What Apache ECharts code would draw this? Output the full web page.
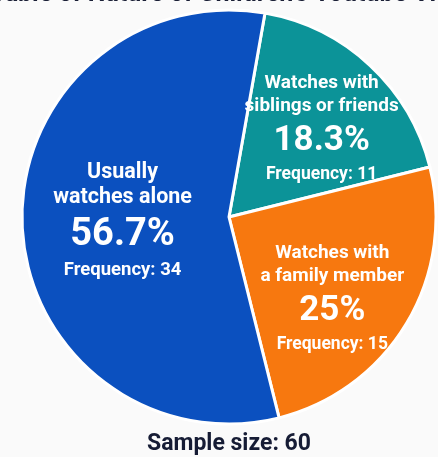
<!DOCTYPE html>
<html>
<head>
<meta charset="utf-8">
<script src="https://cdn.jsdelivr.net/npm/echarts@6/dist/echarts.min.js"></script>
<style>
  html, body { margin: 0; padding: 0; background: #fafafa; }
  #chart { width: 438px; height: 457px; }
</style>
</head>
<body>
<div id="chart"></div>
<script>
// Viewing situations, in clockwise order from the top of the pie
const categories = [
  ['Watches with', 'siblings or friends'],
  ['Watches with', 'a family member'],
  ['Usually', 'watches alone']
];
const frequencies = [11, 15, 34];
const percentLabels = ['18.3%', '25%', '56.7%'];
const sampleSize = 60;

const colors = ['#0c9398', '#f7780f', '#0b50bf'];
// the largest slice gets a slightly bigger label
const labelSizes = ['s', 's', 'b'];
const labelOffsets = [[20, -11], [12, 26], [0, 0]];

const data = categories.map((lines, i) => ({
  name: lines.join(' '),
  value: frequencies[i],
  itemStyle: { color: colors[i] },
  label: { offset: labelOffsets[i] },
  nameLines: lines,
  pct: percentLabels[i],
  size: labelSizes[i]
}));

const font = 'Roboto';
const richStyle = (fontSize, lineHeight) => ({
  fontFamily: font, fontWeight: 'bold', fontSize, lineHeight, color: '#fff', align: 'center'
});

const chart = echarts.init(document.getElementById('chart'), null, { renderer: 'canvas' });
chart.setOption({
  backgroundColor: '#fafafa',
  animation: false,
  title: [
    {
      text: "Table of Nature of Children's Youtube Viewing",
      left: -14,
      top: -23,
      textStyle: { fontFamily: font, fontWeight: 'bold', fontSize: 25, color: '#1a1f36' }
    },
    {
      text: 'Sample size: ' + sampleSize,
      left: 142,
      top: 428,
      textStyle: { fontFamily: font, fontWeight: 'bold', fontSize: 23, color: '#161c35' }
    }
  ],
  series: [{
    type: 'pie',
    center: [229, 217],
    radius: [0, 207],
    startAngle: 80,
    clockwise: true,
    silent: true,
    itemStyle: { borderColor: '#ffffff', borderWidth: 3 },
    label: {
      show: true,
      position: 'inside',
      color: '#ffffff',
      fontFamily: font,
      align: 'center',
      formatter: p => {
        const d = data[p.dataIndex];
        const k = d.size;
        return d.nameLines.map(l => '{name' + k + '|' + l + '}').join('\n') +
          '\n{pct' + k + '|' + d.pct + '}\n{freq' + k + '|Frequency: ' + p.value + '}';
      },
      rich: {
        names: richStyle(19, 23),
        pcts: richStyle(35, 47),
        freqs: richStyle(17.5, 20),
        nameb: richStyle(21.5, 25),
        pctb: richStyle(38, 50),
        freqb: richStyle(18.5, 21)
      }
    },
    labelLine: { show: false },
    data: data
  }]
});
</script>
</body>
</html>
